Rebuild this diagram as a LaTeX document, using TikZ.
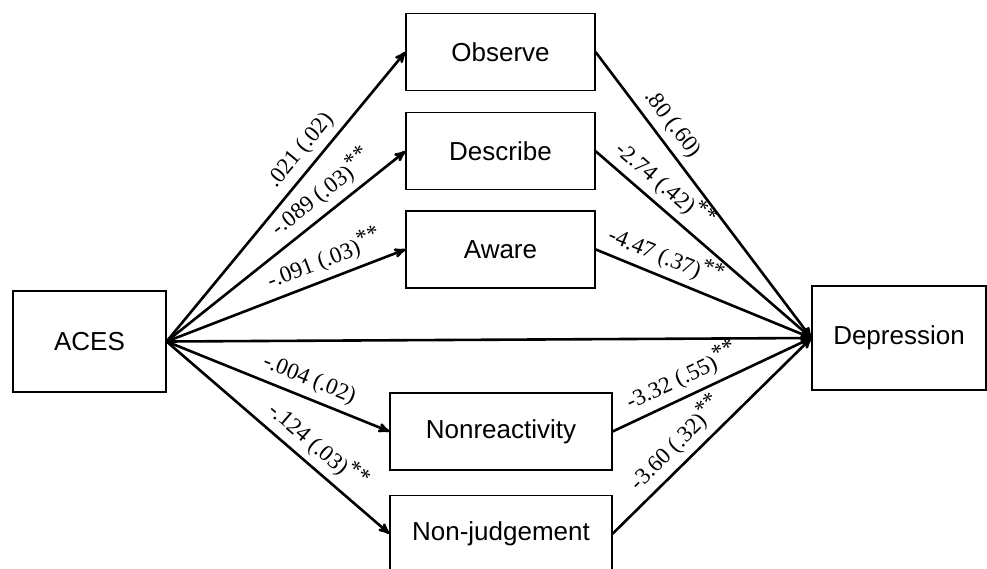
\documentclass[tikz,border=0pt]{standalone}
\usepackage{fontspec}
\setmainfont{Liberation Serif}
\setsansfont{Liberation Sans}
\usetikzlibrary{positioning, arrows}
\tikzset{
  >=stealth',
  box/.style={draw, line width=1.2pt, inner sep=0pt, font=\sffamily\fontsize{26}{30}\selectfont},
  facet/.style={box, minimum width=189pt, minimum height=77pt},
  wide/.style={minimum width=222pt},
  link/.style={->, line width=2.6pt},
  coef/.style={sloped, above=3pt, inner sep=3pt, font=\fontsize{23}{26}\selectfont},
}
\newcommand{\sig}{\raisebox{.3em}{**}}

\begin{document}
\begin{tikzpicture}[x=1pt, y=-1pt]
        \useasboundingbox (0,0) rectangle (987,568);

        % variables
        \node[box, minimum width=153pt, minimum height=101pt] (aces) at (89.5,341.5) {ACES};
        \node[facet] (observe) at (500.5,52) {Observe};
        \node[facet, below=21pt of observe] (describe) {Describe};
        \node[facet, below=20pt of describe] (aware) {Aware};
        \node[facet, wide] (nonreact) at (501,431.5) {Nonreactivity};
        \node[facet, wide, below=24pt of nonreact] (nonjudge) {Non-judgement};
        \node[box, minimum width=174pt, minimum height=104pt] (depr) at (899,338) {Depression};

        % paths
        \draw (aces.east) edge[link] node[coef, pos=0.62] {.021 (.02)} (observe.west)
              (aces.east) edge[link] node[coef, pos=0.7] {-.089 (.03)\sig} (describe.west)
              (aces.east) edge[link] node[coef, pos=0.69] {-.091 (.03)\sig} (aware.west)
              (aces.east) edge[link] (depr.west)
              (aces.east) edge[link] node[coef, pos=0.61] {-.004 (.02)} (nonreact.west)
              (aces.east) edge[link] node[coef, pos=0.62] {-.124 (.03)\sig} (nonjudge.west)
              (observe.east) edge[link] node[coef, pos=0.29] {.80 (.60)} (depr.west)
              (describe.east) edge[link] node[coef, pos=0.26] {-2.74 (.42)\sig} (depr.west)
              (aware.east) edge[link] node[coef, pos=0.29] {-4.47 (.37)\sig} (depr.west)
              (nonreact.east) edge[link] node[coef, pos=0.39] {-3.32 (.55)\sig} (depr.west)
              (nonjudge.east) edge[link] node[coef, pos=0.39] {-3.60 (.32)\sig} (depr.west);
      \end{tikzpicture}
\end{document}
